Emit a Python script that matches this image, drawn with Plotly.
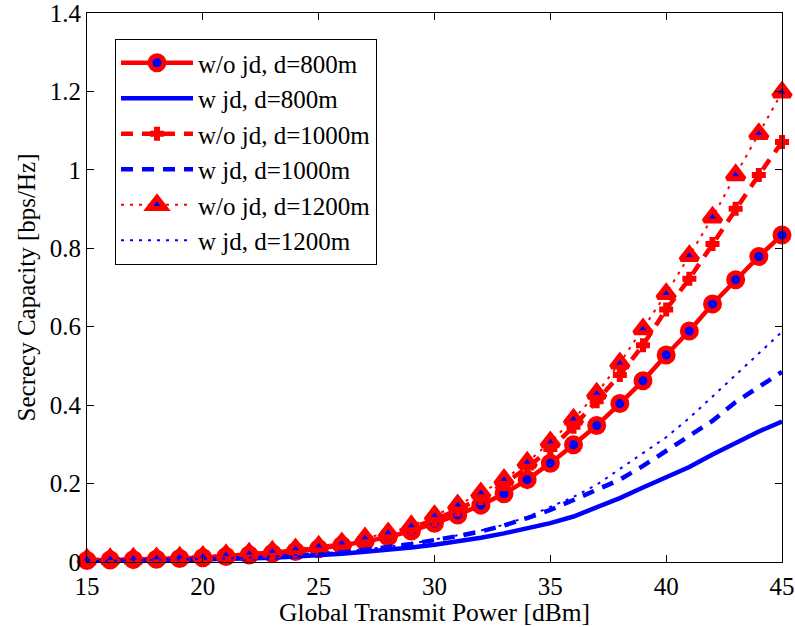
import plotly.graph_objects as go

power_dbm = list(range(15, 46))

wo_jd_800 = [0.004, 0.005, 0.006, 0.007, 0.009, 0.011, 0.014, 0.018, 0.022, 0.027,
             0.034, 0.042, 0.052, 0.064, 0.079, 0.099, 0.120, 0.145, 0.174, 0.210,
             0.252, 0.299, 0.348, 0.404, 0.462, 0.528, 0.589, 0.658, 0.720, 0.779, 0.834]
w_jd_800 = [0.002, 0.002, 0.003, 0.004, 0.005, 0.006, 0.007, 0.009, 0.011, 0.014,
            0.017, 0.021, 0.026, 0.031, 0.037, 0.044, 0.052, 0.062, 0.073, 0.085,
            0.099, 0.116, 0.138, 0.163, 0.190, 0.216, 0.242, 0.274, 0.303, 0.333, 0.358]
wo_jd_1000 = [0.005, 0.006, 0.007, 0.008, 0.010, 0.012, 0.015, 0.019, 0.023, 0.029,
              0.036, 0.045, 0.056, 0.070, 0.087, 0.108, 0.133, 0.163, 0.199, 0.241,
              0.288, 0.345, 0.410, 0.477, 0.553, 0.644, 0.722, 0.811, 0.901, 0.987, 1.071]
w_jd_1000 = [0.002, 0.003, 0.004, 0.004, 0.005, 0.007, 0.008, 0.010, 0.013, 0.016,
             0.020, 0.025, 0.031, 0.038, 0.046, 0.055, 0.066, 0.078, 0.093, 0.112,
             0.133, 0.158, 0.183, 0.210, 0.245, 0.283, 0.320, 0.360, 0.408, 0.447, 0.485]
wo_jd_1200 = [0.007, 0.008, 0.009, 0.010, 0.012, 0.014, 0.018, 0.022, 0.027, 0.033,
              0.040, 0.048, 0.061, 0.074, 0.092, 0.118, 0.145, 0.176, 0.210, 0.254,
              0.306, 0.364, 0.430, 0.507, 0.594, 0.684, 0.781, 0.879, 0.987, 1.092, 1.198]
w_jd_1200 = [0.002, 0.003, 0.004, 0.005, 0.006, 0.007, 0.009, 0.011, 0.014, 0.017,
             0.021, 0.026, 0.032, 0.039, 0.047, 0.057, 0.068, 0.080, 0.095, 0.115,
             0.140, 0.166, 0.197, 0.238, 0.277, 0.318, 0.367, 0.422, 0.478, 0.534, 0.587]

x_ticks = [15, 20, 25, 30, 35, 40, 45]
y_ticks = [0, 0.2, 0.4, 0.6, 0.8, 1.0, 1.2, 1.4]
y_tick_labels = ["0", "0.2", "0.4", "0.6", "0.8", "1", "1.2", "1.4"]

RED = "#ff0000"
BLUE = "#0000ff"
FONT = "Liberation Serif, Times New Roman, serif"

fig = go.Figure()

fig.add_trace(go.Scatter(
    x=power_dbm, y=wo_jd_800, name="w/o jd, d=800m", mode="lines+markers",
    line=dict(color=RED, width=4.5),
    marker=dict(symbol="circle", size=14, color=BLUE, line=dict(color=RED, width=5)),
    cliponaxis=False, legendgroup="a"))
fig.add_trace(go.Scatter(
    x=power_dbm, y=w_jd_800, name="w jd, d=800m", mode="lines",
    line=dict(color=BLUE, width=4.5),
    cliponaxis=False, legendgroup="b"))
fig.add_trace(go.Scatter(
    x=power_dbm, y=wo_jd_1000, name="w/o jd, d=1000m", mode="lines+markers",
    line=dict(color=RED, width=4.5, dash="12px,9px"),
    marker=dict(symbol="cross", size=10, color=RED, line=dict(color=RED, width=2)),
    cliponaxis=False, legendgroup="c"))
fig.add_trace(go.Scatter(
    x=power_dbm, y=w_jd_1000, name="w jd, d=1000m", mode="lines",
    line=dict(color=BLUE, width=4.5, dash="12px,9px"),
    cliponaxis=False, legendgroup="d"))
fig.add_trace(go.Scatter(
    x=power_dbm, y=wo_jd_1200, name="w/o jd, d=1200m", mode="lines+markers",
    line=dict(color=RED, width=2, dash="3px,6px"),
    marker=dict(symbol="triangle-up", size=15, color=BLUE, line=dict(color=RED, width=5)),
    cliponaxis=False, legendgroup="e"))
fig.add_trace(go.Scatter(
    x=power_dbm, y=w_jd_1200, name="w jd, d=1200m", mode="lines",
    line=dict(color=BLUE, width=2, dash="3px,6px"),
    cliponaxis=False, legendgroup="f"))

axis_common = dict(
    showline=True, linecolor="black", linewidth=1.2, mirror="ticks",
    ticks="inside", ticklen=7, tickwidth=1, tickcolor="black",
    showgrid=False, zeroline=False, automargin=False,
    ticklabeloverflow="allow",
    tickfont=dict(family=FONT, size=25, color="black"),
)

fig.update_layout(
    width=795, height=627,
    margin=dict(l=87, r=13, t=13, b=65),
    paper_bgcolor="white", plot_bgcolor="white",
    font=dict(family=FONT, size=25, color="black"),
    xaxis=dict(range=[15, 45], tickvals=x_ticks, ticklabelstandoff=2,
               title=dict(text="Global Transmit Power [dBm]", font=dict(family=FONT, size=25.5), standoff=3),
               **axis_common),
    yaxis=dict(range=[0, 1.4], tickvals=y_ticks, ticktext=y_tick_labels,
               title=dict(text="Secrecy Capacity [bps/Hz]", font=dict(family=FONT, size=25), standoff=6),
               **axis_common),
    legend=dict(x=0.04, y=0.953, xanchor="left", yanchor="top",
                bgcolor="white", bordercolor="black", borderwidth=1.2,
                font=dict(family=FONT, size=25, color="black"),
                traceorder="grouped", tracegroupgap=0, itemwidth=72),
    showlegend=True,
)

fig.write_html("out.html", config={"displayModeBar": False},
               post_script="document.body.style.margin='0';")
